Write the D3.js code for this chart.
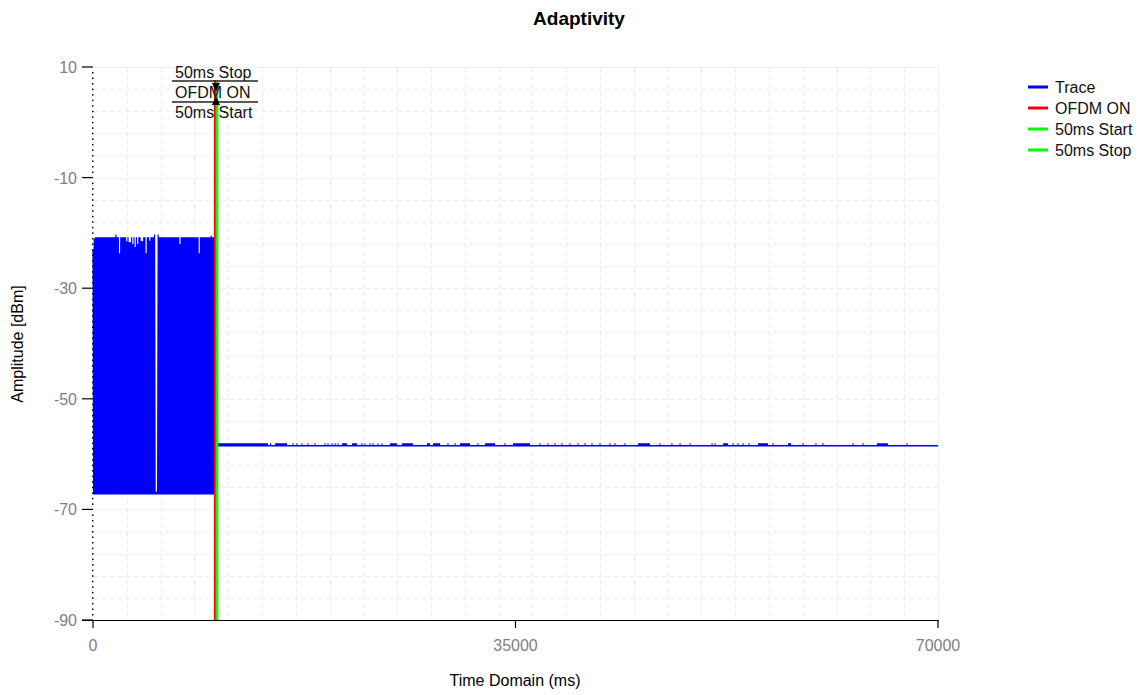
<!DOCTYPE html>
<html>
<head>
<meta charset="utf-8">
<script src="https://cdn.jsdelivr.net/npm/d3@7/dist/d3.min.js"></script>
<style>
  html, body { margin: 0; padding: 0; background: #fff; }
  svg { display: block; font-family: "Liberation Sans", Arial, sans-serif; }
</style>
</head>
<body>
<svg id="chart" width="1143" height="695"></svg>
<script>
// ---------- DATA ----------
const chartTitle = "Adaptivity";
const xTitle = "Time Domain (ms)";
const yTitle = "Amplitude [dBm]";
const xTickValues = [0, 35000, 70000];
const yTickValues = [10, -10, -30, -50, -70, -90];
const xDomain = [0, 70000];
const yDomain = [-90, 10];
const gridStepX = 2800;
const gridStepY = 4;

// Burst section: one peak per 100 ms sample (0 .. 10000 ms), troughs between
const burstStep = 100;
const burstPeaks = [
  -23.0, -21.0, -20.8, -20.8, -20.8, -20.8, -20.8, -20.8, -20.8, -20.8,
  -20.8, -20.8, -20.8, -20.8, -20.8, -20.8, -20.8, -20.8, -20.8, -20.3,
  -20.8, -20.8, -23.7, -20.8, -20.8, -20.8, -20.8, -20.8, -21.5, -20.8,
  -21.7, -21.7, -20.8, -22.0, -20.8, -22.5, -20.8, -22.0, -20.8, -20.8,
  -21.4, -21.5, -20.8, -20.8, -23.7, -20.8, -20.8, -21.4, -20.8, -20.8,
  -20.8, -20.3, -66.8, -66.8, -20.3, -20.8, -20.8, -20.8, -20.8, -20.8,
  -20.8, -20.8, -20.8, -20.8, -20.8, -20.8, -20.8, -20.8, -20.8, -20.8,
  -20.8, -20.8, -22.0, -20.8, -20.8, -20.8, -20.8, -20.8, -20.8, -20.8,
  -20.8, -20.8, -20.8, -20.8, -20.8, -20.8, -20.8, -20.8, -23.7, -20.8,
  -20.8, -20.8, -20.8, -20.8, -20.8, -20.8, -20.8, -20.8, -20.5, -20.8,
  -20.8
];
const burstTrough = -67.3;

// Quiet section after OFDM ON
const tailStart = 10100;
const tailEnd = 70000;
const tailLevel = -58.5;
const spikeLevel = -58.2;
// spike ranges [start ms, end ms]
const tailSpikes = [
  [10270, 14500], [14660, 14750], [15080, 16070], [16530, 16610], [16860, 16940],
  [17270, 17350], [17770, 17850], [18350, 18430], [19180, 19260], [19430, 19510],
  [19760, 19840], [20010, 20090], [20260, 20340], [20630, 21040], [21460, 21870],
  [22240, 22320], [22490, 22570], [22910, 22990], [23160, 23240], [23570, 23650],
  [23900, 23980], [24600, 25180], [25600, 26510], [27670, 27920], [28170, 28750],
  [29370, 29450], [29950, 30030], [30400, 31230], [31850, 31930], [32470, 33300],
  [34090, 34170], [34790, 36200], [36990, 37070], [37650, 37730], [38230, 38310],
  [38810, 38890], [39470, 39550], [40140, 40220], [40720, 40800], [41300, 41380],
  [41960, 42040], [42790, 42870], [43200, 43280], [44030, 44110], [45150, 46140],
  [46930, 47010], [47920, 48000], [48590, 48670], [49420, 49500], [51240, 51320],
  [51490, 51570], [52190, 52600], [52980, 53060], [53390, 53470], [53810, 53890],
  [54300, 54380], [55090, 55920], [56290, 56370], [57570, 57820], [58780, 58860],
  [59850, 59930], [60430, 60510], [62920, 63000], [63750, 63830], [64940, 65850],
  [67390, 67470]
];

// Markers
const markerNames = ["OFDM ON", "50ms Start", "50ms Stop"];
const markerTimes = [10100, 10250, 10300];
const markerColors = ["#ff0000", "#00ff00", "#00ff00"];

// Legend
const legendNames = ["Trace", "OFDM ON", "50ms Start", "50ms Stop"];
const legendColors = ["#0000ff", "#ff0000", "#00ff00", "#00ff00"];

// ---------- LAYOUT ----------
const svg = d3.select("#chart");
const plot = { left: 93, right: 938, top: 67, bottom: 620 };
const x = d3.scaleLinear().domain(xDomain).range([plot.left, plot.right]);
const y = d3.scaleLinear().domain(yDomain).range([plot.bottom, plot.top]);

// Grid
const grid = svg.append("g");
const gx = d3.range(xDomain[0] + gridStepX, xDomain[1], gridStepX);
const gy = d3.range(yDomain[0] + gridStepY, yDomain[1], gridStepY);
grid.selectAll("line.gx").data(gx).join("line")
  .attr("x1", d => Math.round(x(d)) + 0.5).attr("x2", d => Math.round(x(d)) + 0.5)
  .attr("y1", plot.top).attr("y2", plot.bottom)
  .attr("stroke", "#ededed").attr("stroke-width", 1).attr("stroke-dasharray", "5,3");
grid.selectAll("line.gy").data(gy).join("line")
  .attr("y1", d => Math.round(y(d)) + 0.5).attr("y2", d => Math.round(y(d)) + 0.5)
  .attr("x1", plot.left).attr("x2", plot.right)
  .attr("stroke", "#ededed").attr("stroke-width", 1).attr("stroke-dasharray", "5,3");
// plot border (top + right)
grid.append("line").attr("x1", plot.left).attr("x2", plot.right)
  .attr("y1", plot.top + 0.5).attr("y2", plot.top + 0.5).attr("stroke", "#f0f0f0");
grid.append("line").attr("x1", plot.right + 0.5).attr("x2", plot.right + 0.5)
  .attr("y1", plot.top).attr("y2", plot.bottom).attr("stroke", "#f0f0f0");

// Trace: bursts
const burstPts = [];
burstPeaks.forEach((v, i) => {
  burstPts.push([i * burstStep, v]);
  burstPts.push([i * burstStep + burstStep / 2, burstTrough]);
});
burstPts.push([tailStart, tailLevel]);
const line = d3.line().x(d => x(d[0])).y(d => y(d[1]));
svg.append("path").datum(burstPts)
  .attr("d", line).attr("fill", "none")
  .attr("stroke", "#0000ff").attr("stroke-width", 1.2);

// Trace: quiet tail
svg.append("path").datum([[tailStart, tailLevel], [tailEnd, tailLevel]])
  .attr("d", line).attr("fill", "none")
  .attr("stroke", "#0000ff").attr("stroke-width", 1.6);
svg.append("g").selectAll("path").data(tailSpikes).join("path")
  .attr("d", d => line([[d[0], spikeLevel], [d[1], spikeLevel]]))
  .attr("fill", "none").attr("stroke", "#0000ff").attr("stroke-width", 1.8);

// Marker lines
const markerTop = [80, 104, 81];
markerTimes.forEach((t, i) => {
  svg.append("line")
    .attr("x1", x(t)).attr("x2", x(t))
    .attr("y1", markerTop[i]).attr("y2", plot.bottom)
    .attr("stroke", markerColors[i]).attr("stroke-width", 2);
});

// Marker labels (stacked)
const labelOrder = [2, 0, 1]; // Stop, OFDM ON, Start
const labelY = [78, 98, 118];
const labelX = 175;
labelOrder.forEach((mi, r) => {
  svg.append("text").attr("x", labelX).attr("y", labelY[r])
    .attr("font-size", 16).attr("fill", "#111").text(markerNames[mi]);
});
[81, 102].forEach(yy => {
  svg.append("line").attr("x1", 172).attr("x2", 258)
    .attr("y1", yy).attr("y2", yy).attr("stroke", "#222").attr("stroke-width", 1.3);
});
const ax = x(markerTimes[0]) + 1;
svg.append("path").attr("d", `M${ax - 4},83 L${ax + 4},83 L${ax},92 Z`).attr("fill", "#000");
svg.append("path").attr("d", `M${ax - 4},105 L${ax + 4},105 L${ax},96 Z`).attr("fill", "#000");

// Axes
const xAxisG = svg.append("g").attr("transform", `translate(0,${plot.bottom})`);
xAxisG.append("line").attr("x1", 82).attr("x2", plot.right + 1)
  .attr("y1", 0.5).attr("y2", 0.5).attr("stroke", "#000").attr("stroke-width", 1.2);
xAxisG.selectAll("line.t").data(xTickValues).join("line")
  .attr("x1", d => x(d)).attr("x2", d => x(d)).attr("y1", 0).attr("y2", 8)
  .attr("stroke", "#000").attr("stroke-width", 1.2);
xAxisG.selectAll("text").data(xTickValues).join("text")
  .attr("x", d => x(d)).attr("y", 31).attr("text-anchor", "middle")
  .attr("font-size", 16).attr("fill", "#808080").text(d => d);

const yAxisG = svg.append("g");
const yMinor = d3.range(yDomain[0] + 1, yDomain[1], 1).filter(v => !yTickValues.includes(v));
yAxisG.selectAll("rect.m").data(yMinor).join("rect")
  .attr("x", plot.left - 1).attr("y", d => y(d) - 0.5).attr("width", 1.5).attr("height", 1.5)
  .attr("fill", "#000");
yAxisG.selectAll("line.t").data(yTickValues).join("line")
  .attr("x1", 82).attr("x2", plot.left).attr("y1", d => y(d)).attr("y2", d => y(d))
  .attr("stroke", "#000").attr("stroke-width", 1.2);
yAxisG.selectAll("text").data(yTickValues).join("text")
  .attr("x", 77).attr("y", d => y(d) + 6).attr("text-anchor", "end")
  .attr("font-size", 16).attr("fill", "#808080").text(d => d);

// Titles
svg.append("text").attr("x", 579).attr("y", 25).attr("text-anchor", "middle")
  .attr("font-size", 19).attr("font-weight", "bold").attr("fill", "#000").text(chartTitle);
svg.append("text").attr("x", 515).attr("y", 686).attr("text-anchor", "middle")
  .attr("font-size", 16).attr("fill", "#000").text(xTitle);
svg.append("text").attr("transform", "translate(23,344) rotate(-90)").attr("text-anchor", "middle")
  .attr("font-size", 16).attr("fill", "#000").text(yTitle);

// Legend
const lg = svg.append("g");
legendNames.forEach((n, i) => {
  const yy = 87 + i * 21;
  lg.append("line").attr("x1", 1028).attr("x2", 1048).attr("y1", yy).attr("y2", yy)
    .attr("stroke", legendColors[i]).attr("stroke-width", 3);
  lg.append("text").attr("x", 1055).attr("y", yy + 6).attr("font-size", 16)
    .attr("fill", "#111").text(n);
});
</script>
</body>
</html>
